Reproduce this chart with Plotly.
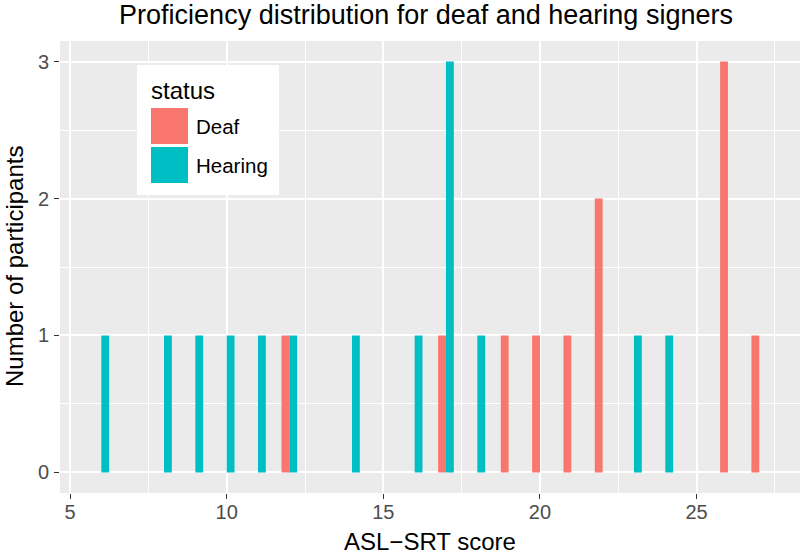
import plotly.graph_objects as go

# ---- data ----
status_names = ["Deaf", "Hearing"]
status_colors = ["#F8766D", "#00BFC4"]

deaf_scores = [12, 17, 19, 20, 21, 22, 26, 27]
deaf_counts = [1, 1, 1, 1, 1, 2, 3, 1]

hearing_scores = [6, 8, 9, 10, 11, 12, 14, 16, 17, 18, 23, 24]
hearing_counts = [1, 1, 1, 1, 1, 1, 1, 1, 3, 1, 1, 1]

x_ticks = [5, 10, 15, 20, 25]
y_ticks = [0, 1, 2, 3]

W, H = 800, 556
ML, MR, MT, MB = 60, 0, 41, 63
PW, PH = W - ML - MR, H - MT - MB

def px_x(px):
    return (px - ML) / PW

def px_y(py):
    return (H - MB - py) / PH

FONT = "Liberation Sans, Arial, sans-serif"

fig = go.Figure()
fig.add_trace(go.Bar(x=deaf_scores, y=deaf_counts, name=status_names[0],
                     marker=dict(color=status_colors[0], line=dict(width=0)),
                     showlegend=False))
fig.add_trace(go.Bar(x=hearing_scores, y=hearing_counts, name=status_names[1],
                     marker=dict(color=status_colors[1], line=dict(width=0)),
                     showlegend=False))

fig.update_layout(
    width=W, height=H,
    margin=dict(l=ML, r=MR, t=MT, b=MB, autoexpand=False),
    paper_bgcolor="white",
    plot_bgcolor="#EBEBEB",
    barmode="group",
    bargap=0.5,
    bargroupgap=0,
    font=dict(family=FONT, color="black"),
    title=dict(text="Proficiency distribution for deaf and hearing signers",
               x=px_x((ML + W) / 2 - 4), xref="paper", xanchor="center",
               y=1 - 15 / H, yref="container", yanchor="middle",
               font=dict(size=27, color="black", family=FONT)),
    showlegend=False,
)

fig.update_xaxes(
    range=[4.68, 28.3], automargin=False,
    tickmode="array", tickvals=x_ticks, ticktext=[str(v) for v in x_ticks],
    showgrid=True, gridcolor="white", gridwidth=1.6,
    minor=dict(tickvals=[7.5, 12.5, 17.5, 22.5, 27.5], showgrid=True,
               gridcolor="white", gridwidth=0.8, ticks=""),
    zeroline=False, showline=False,
    ticks="outside", ticklen=5, tickwidth=1.4, tickcolor="#333333",
    ticklabelstandoff=-4,
    tickfont=dict(size=20, color="#4D4D4D", family=FONT),
)
fig.update_yaxes(
    range=[-0.15, 3.15], automargin=False,
    tickmode="array", tickvals=y_ticks, ticktext=[str(v) for v in y_ticks],
    showgrid=True, gridcolor="white", gridwidth=1.6,
    minor=dict(tickvals=[0.5, 1.5, 2.5], showgrid=True,
               gridcolor="white", gridwidth=0.8, ticks=""),
    zeroline=False, showline=False,
    ticks="outside", ticklen=5, tickwidth=1.4, tickcolor="#333333",
    ticklabelstandoff=1,
    tickfont=dict(size=20, color="#4D4D4D", family=FONT),
)

# ---- axis titles ----
annotations = [
    dict(text="ASL\u2212SRT score", xref="paper", yref="paper",
         x=px_x((ML + W) / 2), y=px_y(541), xanchor="center", yanchor="middle",
         showarrow=False, font=dict(size=24, color="black", family=FONT)),
    dict(text="Number of participants", xref="paper", yref="paper",
         x=px_x(14), y=px_y((MT + H - MB) / 2), xanchor="center", yanchor="middle",
         textangle=-90, showarrow=False, font=dict(size=24, color="black", family=FONT)),
]

# ---- legend drawn as a ggplot-style key box ----
shapes = [dict(type="rect", xref="paper", yref="paper",
               x0=px_x(137), x1=px_x(279), y0=px_y(195), y1=px_y(65),
               fillcolor="white", line=dict(width=0), layer="above")]
annotations.append(dict(text="status", xref="paper", yref="paper",
                        x=px_x(149), y=px_y(90), xanchor="left", yanchor="middle",
                        showarrow=False, font=dict(size=24, color="black", family=FONT)))
key_tops = [108, 147]
for name, color, top in zip(status_names, status_colors, key_tops):
    shapes.append(dict(type="rect", xref="paper", yref="paper",
                       x0=px_x(151), x1=px_x(188), y0=px_y(top + 36), y1=px_y(top),
                       fillcolor=color, line=dict(width=0), layer="above"))
    annotations.append(dict(text=name, xref="paper", yref="paper",
                            x=px_x(194), y=px_y(top + 18), xanchor="left", yanchor="middle",
                            showarrow=False, font=dict(size=20.5, color="black", family=FONT)))

fig.update_layout(shapes=shapes, annotations=annotations)

fig.write_html("out.html",
               config={"displayModeBar": False},
               post_script="document.body.style.margin='0';document.body.style.overflow='hidden';")
